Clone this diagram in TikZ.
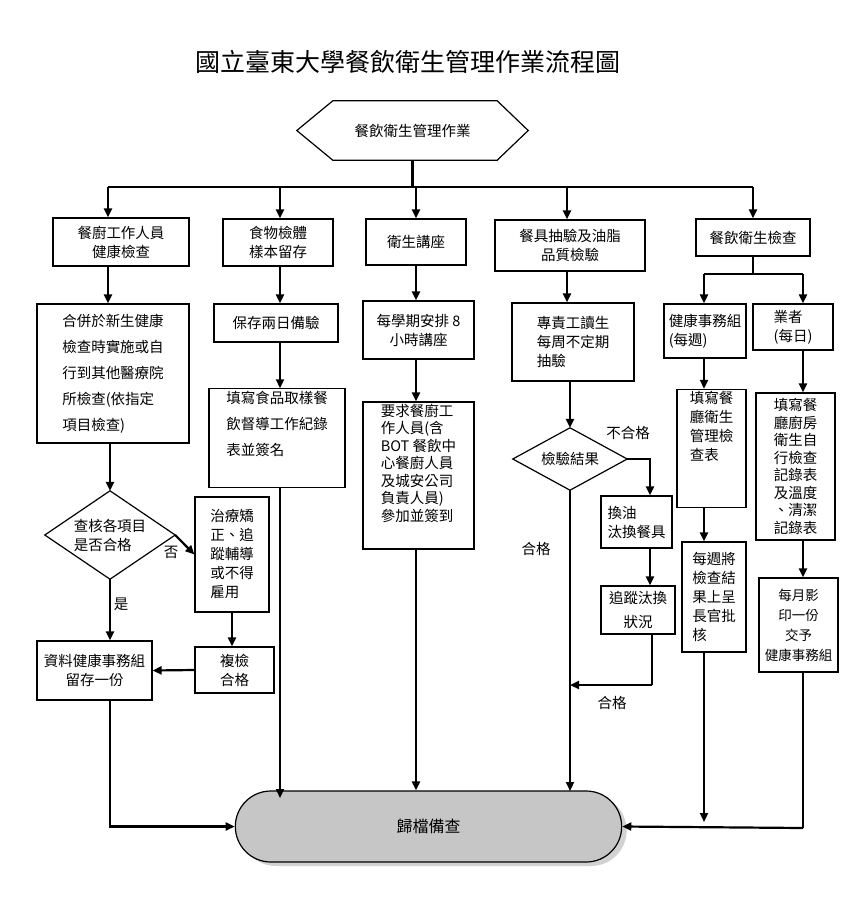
\documentclass[tikz,border=0pt]{standalone}
\usepackage{fontspec}
\newfontfamily\cjk{Noto Sans CJK TC}
\usetikzlibrary{shapes.misc,arrows.meta}
\begin{document}
\begin{tikzpicture}[x=1pt,y=-1pt,
  box/.style={draw,line width=1.2pt,inner sep=2pt,align=center,font=\cjk\fontsize{14.5}{19}\selectfont},
  lbl/.style={inner sep=0,font=\cjk\fontsize{14.5}{19}\selectfont},
  arr/.style={line width=2.2pt,-{Triangle[length=9pt,width=8pt]}},
  ln/.style={line width=2.2pt},
  thin/.style={line width=1.2pt}]
\useasboundingbox (0,0) rectangle (864,903);
\node[inner sep=0,font=\cjk\fontsize{25}{28}\selectfont] (title) at (408,62) {國立臺東大學餐飲衛生管理作業流程圖};
% hexagon
\node[lbl,minimum width=231,minimum height=59] (H) at (412.5,130.5) {餐飲衛生管理作業};
\draw[thin] (H.west) -- ([xshift=36]H.north west) -- ([xshift=-31]H.north east) -- (H.east) -- ([xshift=-31]H.south east) -- ([xshift=36]H.south west) -- cycle;
% row 1
\node[box,minimum width=136,minimum height=48] (A1) at (121,242) {餐廚工作人員\\健康檢查};
\node[box,minimum width=110,minimum height=47] (B1) at (278,242.5) {食物檢體\\樣本留存};
\node[box,minimum width=100,minimum height=46] (C1) at (416,242) {衛生講座};
\node[box,minimum width=150,minimum height=51] (D1) at (570,245.5) {餐具抽驗及油脂\\品質檢驗};
\node[box,minimum width=114,minimum height=37] (E1) at (753,237.5) {餐飲衛生檢查};
% row 2
\node[box,minimum width=152,minimum height=139,align=left,font=\cjk\fontsize{14.5}{26}\selectfont] (A2) at (113,373.5) {合併於新生健康\\檢查時實施或自\\行到其他醫療院\\所檢查(依指定\\項目檢查)};
\node[box,minimum width=124,minimum height=38] (B2) at (276,323) {保存兩日備驗};
\node[box,minimum width=111,minimum height=58] (C2) at (418.5,330) {每學期安排 8\\小時講座};
\node[box,minimum width=122,minimum height=78,align=left] (D2) at (573,342) {專責工讀生\\每周不定期\\抽驗};
\node[box,minimum width=82,minimum height=54,align=left] (E2a) at (705,331) {健康事務組\\(每週)};
\node[box,minimum width=80,minimum height=46,align=left] (E2b) at (793,327) {業者\\(每日)};
% row 3
\node[box,minimum width=136,minimum height=98,align=left,font=\cjk\fontsize{14.5}{26}\selectfont] (B3) at (277,438) {填寫食品取樣餐\\飲督導工作紀錄\\表並簽名\\[4pt]};
\node[box,minimum width=111,minimum height=133,align=left,font=\cjk\fontsize{14.5}{17.5}\selectfont] (C3) at (418.5,475.5) {要求餐廚工\\作人員(含\\BOT 餐飲中\\心餐廚人員\\及城安公司\\負責人員)\\參加並簽到\\[8pt]};
\node[box,minimum width=69,minimum height=111,align=left,font=\cjk\fontsize{14.5}{19}\selectfont] (E3a) at (711.5,448.5) {填寫餐\\廳衛生\\管理檢\\查表\\[26pt]};
\node[box,minimum width=79,minimum height=147,align=left,font=\cjk\fontsize{14.5}{17.5}\selectfont] (E3b) at (795.5,466.5) {填寫餐\\廳廚房\\衛生自\\行檢查\\記錄表\\及溫度\\、清潔\\記錄表};
% diamonds
\node[lbl,minimum width=130,minimum height=88,align=left] (DA) at (110,535) {查核各項目\\是否合格};
\draw[thin] (DA.west) -- (DA.north) -- (DA.east) -- (DA.south) -- cycle;
\node[lbl,minimum width=114,minimum height=62] (DD) at (570,459) {檢驗結果};
\draw[thin] (DD.west) -- (DD.north) -- (DD.east) -- (DD.south) -- cycle;
% lower boxes
\node[box,minimum width=74,minimum height=115,align=left] (T) at (232,554.5) {治療矯\\正、追\\蹤輔導\\或不得\\雇用};
\node[box,minimum width=79,minimum height=46] (R) at (234.5,670) {複檢\\合格};
\node[box,minimum width=115,minimum height=59] (A3) at (94.5,670.5) {資料健康事務組\\留存一份};
\node[box,minimum width=71,minimum height=52,align=left] (D3) at (636.5,522) {換油\\汰換餐具};
\node[box,minimum width=74,minimum height=48,font=\cjk\fontsize{14.5}{24}\selectfont] (D4) at (638,610) {追蹤汰換\\狀況};
\node[box,minimum width=64,minimum height=110,align=left] (E4a) at (714,597) {每週將\\檢查結\\果上呈\\長官批\\核};
\node[box,minimum width=79,minimum height=94,font=\cjk\fontsize{13.5}{20}\selectfont] (E4b) at (798.5,625) {每月影\\印一份\\交予\\健康事務組};
% terminal
\node[rounded rectangle,fill=gray!35,minimum width=393,minimum height=71] (Zs) at (433.5,830.5) {};
\node[rounded rectangle,draw,line width=1.2pt,fill=gray!45,minimum width=393,minimum height=71,font=\cjk\fontsize{16}{19}\selectfont] (Z) at (428.5,826.5) {歸檔備查};
% bus
\coordinate (bL) at (108,187); \coordinate (bR) at (753,187);
\draw[ln] (H.south) -- (412.5,187);
\draw[ln] (bL) -- (bR);
\draw[arr] (bL) -- (A1.north -| bL);
\draw[arr] (280,187) -- (B1.north -| 280,0);
\draw[arr] (416,187) -- (C1.north);
\draw[arr] (567,187) -- (D1.north -| 567,0);
\draw[arr] (bR) -- (E1.north);
% col A
\draw[arr] (A1.south -| 108,0) -- (A2.north -| 108,0);
\draw[arr] (A2.south -| DA.north) -- (DA.north);
\draw[arr] (DA.south) -- (A3.north -| DA.south);
\node[lbl] (yes) at (121,604) {是};
\draw[arr] (DA.east) -- (T.west);
\node[lbl] (no) at (171,552) {否};
\draw[arr] (T.south) -- (R.north -| T.south);
\draw[arr] (R.west) -- (A3.east);
\draw[arr] (A3.south -| 110,0) |- (Z.west);
% col B, C
\draw[arr] (B1.south -| 280,0) -- (B2.north -| 280,0);
\draw[arr] (B2.south -| 280,0) -- (B3.north -| 280,0);
\draw[arr] (B3.south -| 280,0) -- (280,798);
\draw[arr] (C1.south -| 416,0) -- (C2.north -| 416,0);
\draw[arr] (C2.south -| 416,0) -- (C3.north -| 416,0);
\draw[arr] (C3.south -| 416,0) -- (Z.north -| 416,0);
% col D
\draw[arr] (D1.south -| 567,0) -- (D2.north -| 567,0);
\draw[arr] (D2.south -| DD.north) -- (DD.north);
\draw[arr] (DD.south) -- (570,791);
\node[lbl] (pass1) at (536,549) {合格};
\draw[arr] (DD.east) -| (D3.north -| 650,0);
\node[lbl] (fail) at (628,433) {不合格};
\draw[arr] (D3.south -| 650,0) -- (D4.north -| 650,0);
\draw[thin] (D4.south -| 652,0) -- (652,685);
\draw[arr] (652,685) -- (570,685);
\node[lbl] (pass2) at (612,703) {合格};
% col E
\coordinate (e1) at (704,274); \coordinate (e2) at (803,274);
\draw[thin] (E1.south) -- (753,274);
\draw[ln] (e1) -- (e2);
\draw[arr] (e1) -- (E2a.north -| e1);
\draw[arr] (e2) -- (E2b.north -| e2);
\draw[arr] (E2a.south -| e1) -- (E3a.north -| e1);
\draw[arr] (E2b.south -| e2) -- (E3b.north -| e2);
\draw[arr] (E3a.south -| e1) -- (E4a.north -| e1);
\draw[arr] (E3b.south -| e2) -- (E4b.north -| e2);
\draw[arr] (E4a.south -| e1) -- (704,822);
\draw[thin] (E4b.south -| 803,0) -- (803,828);
\draw[arr] (803,828) -- (Z.east);
\end{tikzpicture}
\end{document}
